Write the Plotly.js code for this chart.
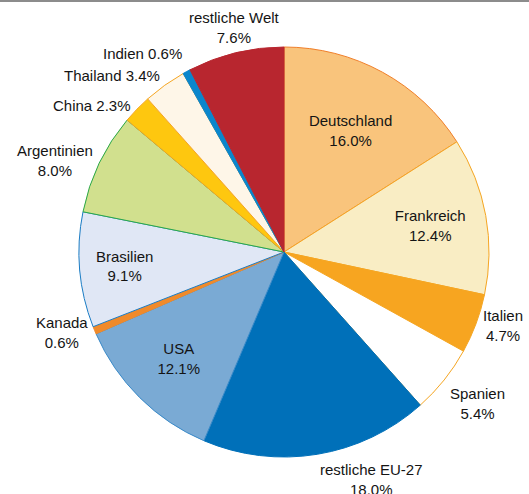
<!DOCTYPE html>
<html>
<head>
<meta charset="utf-8">
<script src="https://cdn.plot.ly/plotly-3.0.1.min.js"></script>
<style>
  html, body { margin: 0; padding: 0; background: #fff; }
  #topline { position: absolute; left: 0; top: 0; width: 529px; height: 2px; background: #8c8c8c; z-index: 5; }
  #chart { width: 529px; height: 494px; }
</style>
</head>
<body>
<div id="topline"></div>
<div id="chart"></div>
<script>
const labels = ["Deutschland", "Frankreich", "Italien", "Spanien", "restliche EU-27", "USA", "Kanada", "Brasilien", "Argentinien", "China", "Thailand", "Indien", "restliche Welt"];
const values = [16.0, 12.4, 4.7, 5.4, 18.0, 12.1, 0.6, 9.1, 8.0, 2.3, 3.4, 0.6, 7.6];
const fillColors = ["#f9c47c", "#f9edc4", "#f7a520", "#ffffff", "#0070b9", "#7aaad4", "#f08a2a", "#e0e7f5", "#d1e08e", "#fec70f", "#fef6e8", "#0a86cc", "#b8262f"];
const lineColors = ["#f07f2a", "#f5a623", "#f5a623", "#f5a623", "#0070b9", "#3a8ac8", "#f08a2a", "#1a7cc4", "#2aa84a", "#f5a623", "#f5a623", "#0a86cc", "#b8262f"];
const inside = [true, true, false, false, false, true, false, true, false, false, false, false, false];
const oneLine = [false, false, false, false, false, false, false, false, false, true, true, true, false];

const W = 529, H = 494;
const cx = 284, cy = 252, R = 205, GAP = 5, LINE_H = 20, SEP = 22;
const FONT = { family: "Liberation Sans, Arial, sans-serif", size: 15, color: "#141414" };

const fmt = (i) => labels[i] + (oneLine[i] ? " " : "<br>") + values[i].toFixed(1) + "%";

// Outside labels placed at each slice's mid-angle, derived from the data
const total = values.reduce((a, b) => a + b, 0);
const items = [];
let cum = 0;
values.forEach((v, i) => {
  const mid = (cum + v / 2) / total * 2 * Math.PI;
  cum += v;
  if (inside[i]) return;
  const dx = Math.sin(mid), dy = -Math.cos(mid);
  const px = cx + (R + GAP) * dx, py = cy + (R + GAP) * dy;
  const lines = oneLine[i] ? 1 : 2;
  const h = lines * LINE_H;
  let yc = py;
  if (dy < -0.75) yc = py - h / 2;
  else if (dy > 0.55) yc = py + h / 2;
  items.push({ i, dx, dy, px, yc, h: lines * SEP, side: dx < 0 ? -1 : 1 });
});

// simple vertical de-overlap among neighbouring labels on the same side
[-1, 1].forEach(side => {
  const s = items.filter(o => o.side === side).sort((a, b) => a.yc - b.yc);
  for (let k = 1; k < s.length; k++) {
    const a = s[k - 1], b = s[k];
    if (a.h > SEP || b.h > SEP) continue;
    const overlap = (a.yc + a.h / 2) - (b.yc - b.h / 2);
    if (overlap > 0.5) { a.yc -= overlap / 2; b.yc += overlap / 2; }
  }
});

const annotations = items.map(o => ({
  xref: "paper", yref: "paper",
  x: o.px / W, y: 1 - o.yc / H,
  text: fmt(o.i),
  showarrow: false,
  xanchor: o.dx < -0.3 ? "right" : (o.dx > 0.1 ? "left" : "center"),
  yanchor: "middle",
  align: "center",
  font: FONT
}));

const trace = {
  type: "pie",
  labels: labels,
  values: values,
  sort: false,
  direction: "clockwise",
  rotation: 0,
  marker: { colors: fillColors, line: { color: lineColors, width: 1 } },
  textposition: inside.map(b => b ? "inside" : "none"),
  texttemplate: "%{label}<br>%{value:.1f}%",
  insidetextorientation: "horizontal",
  textfont: FONT,
  insidetextfont: FONT,
  hoverinfo: "label+percent",
  domain: {
    x: [(cx - R) / W, (cx + R) / W],
    y: [1 - (cy + R) / H, 1 - (cy - R) / H]
  }
};

const layout = {
  width: W, height: H,
  margin: { l: 0, r: 0, t: 0, b: 0 },
  showlegend: false,
  paper_bgcolor: "#ffffff",
  font: FONT,
  annotations: annotations
};

Plotly.newPlot("chart", [trace], layout, { staticPlot: true, displayModeBar: false });
</script>
</body>
</html>
